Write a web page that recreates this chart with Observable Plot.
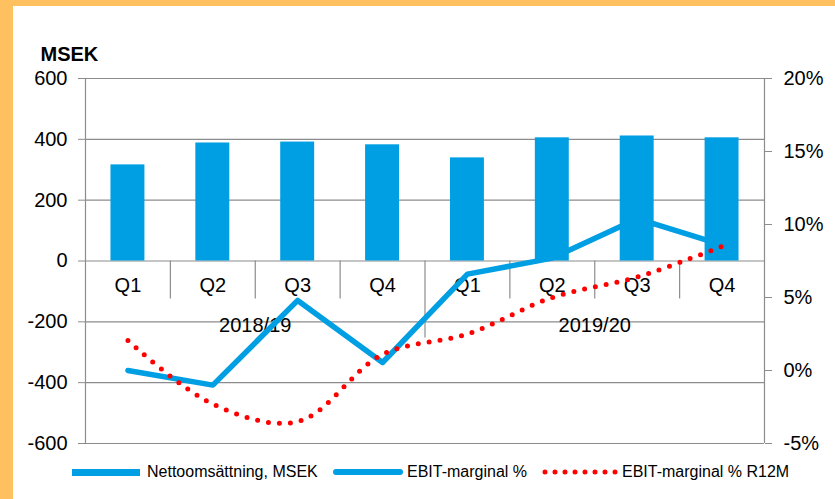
<!DOCTYPE html>
<html><head><meta charset="utf-8">
<script src="https://cdn.jsdelivr.net/npm/d3@7"></script>
<script src="https://cdn.jsdelivr.net/npm/@observablehq/plot@0.6"></script>
<style>
html,body{margin:0;padding:0;}
body{width:835px;height:499px;background:#FFC15F;position:relative;overflow:hidden;font-family:"Liberation Sans",Arial,sans-serif;}
#panel{position:absolute;left:13px;top:6px;width:822px;height:493px;background:#fff;}
.lg{position:absolute;font-size:16px;line-height:16px;color:#000;white-space:nowrap;}
</style></head><body>
<div id="panel"></div>
<div class="lg" style="left:72px;top:469px;width:68px;height:7px;background:#009FE3;"></div>
<div class="lg" style="left:147px;top:463.5px;">Nettoomsättning, MSEK</div>
<div class="lg" style="left:333px;top:469px;width:70px;height:6px;border-radius:3px;background:#009FE3;"></div>
<div class="lg" style="left:407px;top:463.5px;">EBIT-marginal %</div>
<svg style="position:absolute;left:0;top:0;" width="835" height="499" pointer-events="none">
<line x1="545" y1="472" x2="615.5" y2="472" stroke="#FF0000" stroke-width="5" stroke-linecap="round" stroke-dasharray="0 10"/>
</svg>
<div class="lg" style="left:622px;top:463.5px;">EBIT-marginal % R12M</div>
<script>
const quarters = ["Q1","Q2","Q3","Q4","Q1","Q2","Q3","Q4"];
const years = ["2018/19","2019/20"];
const sales = [316, 388, 391, 382, 339, 405, 411, 405];
const ebit = [0.0, -1.0, 4.8, 0.55, 6.6, 7.7, 10.4, 8.6];
const ebitR12 = [2.05, -2.3, -3.5, 1.1, 2.5, 5.0, 6.4, 8.5];
const leftTicks = [-600, -400, -200, 0, 200, 400, 600];
const rightTicks = [-5, 0, 5, 10, 15, 20];

const blue = "#009FE3";
const grid = "#8C8C8C";

const l0 = leftTicks[0], l1 = leftTicks[leftTicks.length - 1];
const r0 = rightTicks[0], r1 = rightTicks[rightTicks.length - 1];
const toY = p => (p - r0) / (r1 - r0) * (l1 - l0) + l0;
const fromY = v => (v - l0) / (l1 - l0) * (r1 - r0) + r0;

const table = quarters.map((q, i) => ({
  i, q, year: years[Math.floor(i / 4)], sales: sales[i], ebit: ebit[i], r12: ebitR12[i]
}));
const yearLabels = years.map((y, k) => ({y, x: k * 4 + 1.5}));
const seps = quarters.slice(1).map((q, k) => k + 0.5).filter(v => v !== 3.5);

const chart = Plot.plot({
  width: 822, height: 449,
  marginLeft: 72, marginRight: 71, marginTop: 72, marginBottom: 12,
  style: {fontFamily: "Liberation Sans, Arial, sans-serif", background: "transparent", overflow: "visible", color: "#000"},
  x: {type: "linear", domain: [-0.5, quarters.length - 0.5], axis: null},
  y: {domain: [l0, l1], axis: null},
  marks: [
    Plot.ruleY(leftTicks, {stroke: grid, strokeWidth: 1.2}),
    Plot.rect(table, {x1: d => d.i - 0.2, x2: d => d.i + 0.2, y1: 0, y2: "sales", fill: blue}),
    Plot.ruleX(seps, {y1: 0, y2: -125, stroke: grid, strokeWidth: 1.2}),
    Plot.ruleX([3.5], {y1: 0, y2: -253, stroke: grid, strokeWidth: 1.2}),
    Plot.ruleX([-0.5, quarters.length - 0.5], {stroke: grid, strokeWidth: 1.2}),
    Plot.text(table, {x: "i", y: 0, dy: 25, text: "q", fontSize: 20, fill: "#000"}),
    Plot.text(yearLabels, {x: "x", y: 0, dy: 65, text: "y", fontSize: 20, fill: "#000"}),
    Plot.line(table, {x: "i", y: d => toY(d.ebit), stroke: blue, strokeWidth: 5.5, strokeLinejoin: "round", strokeLinecap: "round"}),
    Plot.line(table, {x: "i", y: d => toY(d.r12), stroke: "#FF0000", strokeWidth: 5, strokeDasharray: "0 11", strokeLinecap: "round", curve: "catmull-rom"}),
    Plot.axisY({ticks: leftTicks, tickSize: 7, tickPadding: 11, fontSize: 20, stroke: grid, fill: "#000", label: null, tickFormat: d => String(d)}),
    Plot.axisY({anchor: "right", ticks: rightTicks.map(toY), tickSize: 7, tickPadding: 12, fontSize: 20, stroke: grid, fill: "#000", label: null, tickFormat: v => Math.round(fromY(v)) + "%"}),
    Plot.text(["MSEK"], {text: d => d, frameAnchor: "top-left", dx: -45, dy: -18, lineAnchor: "bottom", textAnchor: "start", fontWeight: "bold", fontSize: 20, fill: "#000"})
  ]
});
document.getElementById("panel").appendChild(chart);
</script>
</body></html>
